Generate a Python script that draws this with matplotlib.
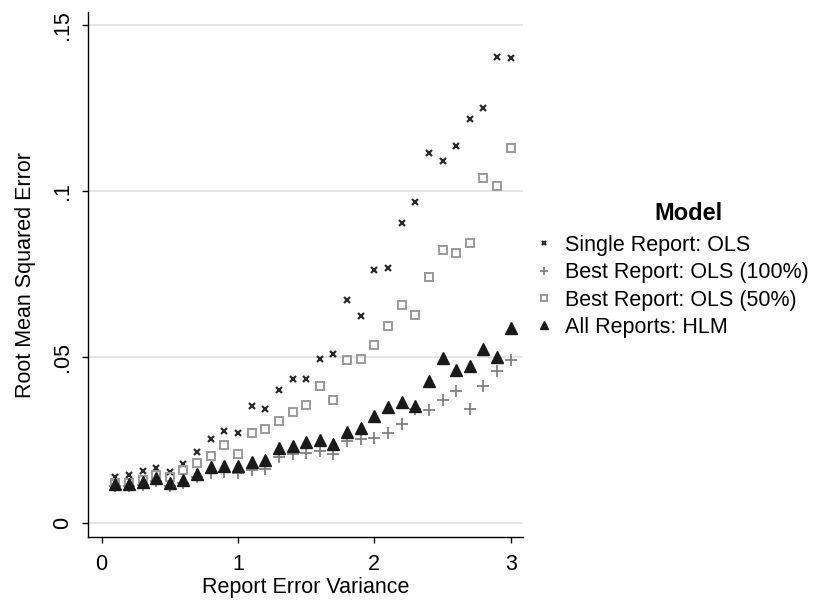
import matplotlib
matplotlib.use("Agg")
import matplotlib.pyplot as plt
from matplotlib.ticker import FuncFormatter

plt.rcParams['font.family'] = ['Liberation Sans', 'DejaVu Sans']

# report error variance, 0.1 .. 3.0
variance = [0.1, 0.2, 0.3, 0.4, 0.5, 0.6, 0.7, 0.8, 0.9, 1.0,
            1.1, 1.2, 1.3, 1.4, 1.5, 1.6, 1.7, 1.8, 1.9, 2.0,
            2.1, 2.2, 2.3, 2.4, 2.5, 2.6, 2.7, 2.8, 2.9, 3.0]

single_ols = [0.0139, 0.0147, 0.0158, 0.0168, 0.0155, 0.0178, 0.0215, 0.0253, 0.0278, 0.0273,
              0.0353, 0.0345, 0.0401, 0.0434, 0.0434, 0.0495, 0.0511, 0.0673, 0.0625, 0.0764,
              0.0770, 0.0904, 0.0967, 0.1116, 0.1090, 0.1136, 0.1217, 0.1250, 0.1405, 0.1402]

best_ols_100 = [0.0114, 0.0114, 0.0117, 0.0129, 0.0113, 0.0121, 0.0141, 0.0151, 0.0154, 0.0151,
                0.0161, 0.0164, 0.0200, 0.0208, 0.0212, 0.0218, 0.0210, 0.0248, 0.0255, 0.0256,
                0.0272, 0.0300, 0.0345, 0.0341, 0.0371, 0.0399, 0.0343, 0.0413, 0.0458, 0.0491]

best_ols_50 = [0.0121, 0.0123, 0.0132, 0.0145, 0.0141, 0.0161, 0.0181, 0.0204, 0.0236, 0.0208,
               0.0271, 0.0284, 0.0309, 0.0334, 0.0357, 0.0415, 0.0371, 0.0493, 0.0495, 0.0538,
               0.0593, 0.0657, 0.0627, 0.0741, 0.0824, 0.0813, 0.0845, 0.1040, 0.1017, 0.1130]

all_hlm = [0.0118, 0.0120, 0.0126, 0.0136, 0.0123, 0.0132, 0.0148, 0.0169, 0.0174, 0.0174,
           0.0186, 0.0190, 0.0226, 0.0232, 0.0244, 0.0250, 0.0238, 0.0276, 0.0288, 0.0323,
           0.0351, 0.0366, 0.0355, 0.0429, 0.0499, 0.0463, 0.0474, 0.0526, 0.0502, 0.0588]

labels = ["Single Report: OLS", "Best Report: OLS (100%)",
          "Best Report: OLS (50%)", "All Reports: HLM"]

x_ticks = [0, 1, 2, 3]
y_ticks = [0, 0.05, 0.10, 0.15]

fs = 15.5

fig = plt.figure(figsize=(8.15, 6.01), dpi=100)
ax = fig.add_axes([88 / 815, 1 - 537 / 601, (523 - 88) / 815, (537 - 12) / 601])

ax.plot(variance, single_ols, linestyle='none', marker='x', markersize=4,
        markeredgewidth=1.6, color='#2a2a2a', label=labels[0])
ax.plot(variance, best_ols_100, linestyle='none', marker='+', markersize=8,
        markeredgewidth=1.3, color='#808080', label=labels[1])
ax.plot(variance, best_ols_50, linestyle='none', marker='s', markersize=5.5,
        markeredgewidth=1.4, markerfacecolor='none', markeredgecolor='#9a9a9a',
        label=labels[2])
ax.plot(variance, all_hlm, linestyle='none', marker='^', markersize=8.5,
        color='#1a1a1a', label=labels[3])

ax.set_xlim(-0.1, 3.09)
ax.set_ylim(-0.0041, 0.154)
ax.set_xticks(x_ticks)
ax.set_yticks(y_ticks)

def fmt_y(v, pos):
    if v == 0:
        return "0"
    return ("%g" % v).lstrip("0")

ax.yaxis.set_major_formatter(FuncFormatter(fmt_y))
ax.tick_params(axis='both', direction='out', length=4.5, width=1, labelsize=fs,
               colors='black')
ax.tick_params(axis='x', pad=8)
ax.tick_params(axis='y', pad=6)
for lab in ax.get_yticklabels():
    lab.set_rotation(90)
    lab.set_va('center')

ax.grid(axis='y', color='#e3e3e3', linewidth=1.3)
ax.set_axisbelow(True)
ax.spines['top'].set_visible(False)
ax.spines['right'].set_visible(False)
ax.spines['left'].set_linewidth(1)
ax.spines['bottom'].set_linewidth(1)

ax.set_xlabel("Report Error Variance", fontsize=fs, labelpad=1)
ax.set_ylabel("Root Mean Squared Error", fontsize=fs, labelpad=12)

# legend title sits centred over the label text, as in Stata
fig.text(688 / 815, 1 - 213 / 601, "Model", fontsize=17, fontweight='bold',
         ha='center', va='center')
leg = fig.legend(loc='upper left', bbox_to_anchor=(527 / 815, 1 - 226 / 601),
                 frameon=False, fontsize=fs,
                 markerscale=0.7, handlelength=0.8, handletextpad=0.55,
                 labelspacing=0.3, borderaxespad=0)

fig.savefig("out.png", dpi=100)
